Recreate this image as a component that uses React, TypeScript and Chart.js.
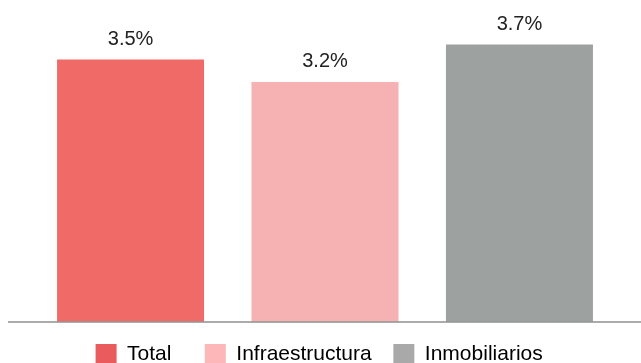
import React, { useEffect, useRef } from "react";
import { Chart, registerables } from "chart.js";

Chart.register(...registerables);

const categories = [""];
const seriesNames = ["Total", "Infraestructura", "Inmobiliarios"];
const seriesValues = [3.5, 3.2, 3.7];
const barColors = ["#F06A68", "#F6B1B2", "#9DA1A0"];
const legendColors = ["#E95B5D", "#FDB7B8", "#A9A9A9"];
// extra trailing space after each legend entry, widening the gaps between entries
const legendTrailing = ["    ", "  ", "  "];

const FONT = "'Liberation Sans', Arial, sans-serif";

// Writes each bar's value as a percentage just above the bar.
const valueLabels = {
  id: "valueLabels",
  afterDatasetsDraw(chart: any) {
    const ctx = chart.ctx;
    ctx.save();
    ctx.font = `20px ${FONT}`;
    ctx.fillStyle = "#222222";
    ctx.textAlign = "center";
    ctx.textBaseline = "alphabetic";
    chart.data.datasets.forEach((ds: any, i: number) => {
      const meta = chart.getDatasetMeta(i);
      meta.data.forEach((bar: any, j: number) => {
        const v = ds.data[j];
        ctx.fillText(`${v.toFixed(1)}%`, bar.x, bar.y - 15);
      });
    });
    ctx.restore();
  },
};

export default function App() {
  const ref = useRef<HTMLCanvasElement>(null);

  useEffect(() => {
    if (!ref.current) return;
    const chart = new Chart(ref.current, {
      type: "bar",
      data: {
        labels: categories,
        datasets: seriesNames.map((name, i) => ({
          label: name,
          data: [seriesValues[i]],
          backgroundColor: barColors[i],
          borderWidth: 0,
          categoryPercentage: 0.923,
          barPercentage: 0.756,
        })),
      },
      options: {
        responsive: false,
        animation: false,
        layout: { padding: { left: 9, right: 0, top: 22, bottom: 0 } },
        scales: {
          x: {
            grid: { display: false, drawTicks: false },
            ticks: { display: false },
            border: { display: true, color: "rgba(150,150,150,0.8)", width: 2, z: 1 },
            afterFit: (scale: any) => {
              scale.height = 12;
            },
          },
          y: { display: false, min: 0, max: 4 },
        },
        plugins: {
          legend: {
            position: "bottom",
            labels: {
              boxWidth: 21,
              boxHeight: 21,
              padding: 10,
              color: "#222222",
              font: { family: FONT, size: 21 },
              generateLabels: () =>
                seriesNames.map((name, i) => ({
                  text: name + legendTrailing[i],
                  fillStyle: legendColors[i],
                  strokeStyle: legendColors[i],
                  lineWidth: 0,
                  datasetIndex: i,
                  hidden: false,
                })),
            },
          },
          tooltip: { enabled: false },
        },
      },
      plugins: [valueLabels],
    });
    return () => chart.destroy();
  }, []);

  return (
    <div style={{ position: "fixed", left: 0, top: 0, width: 641, height: 363, overflow: "hidden", background: "#ffffff" }}>
      <canvas ref={ref} width={641} height={375} style={{ display: "block" }} />
    </div>
  );
}
